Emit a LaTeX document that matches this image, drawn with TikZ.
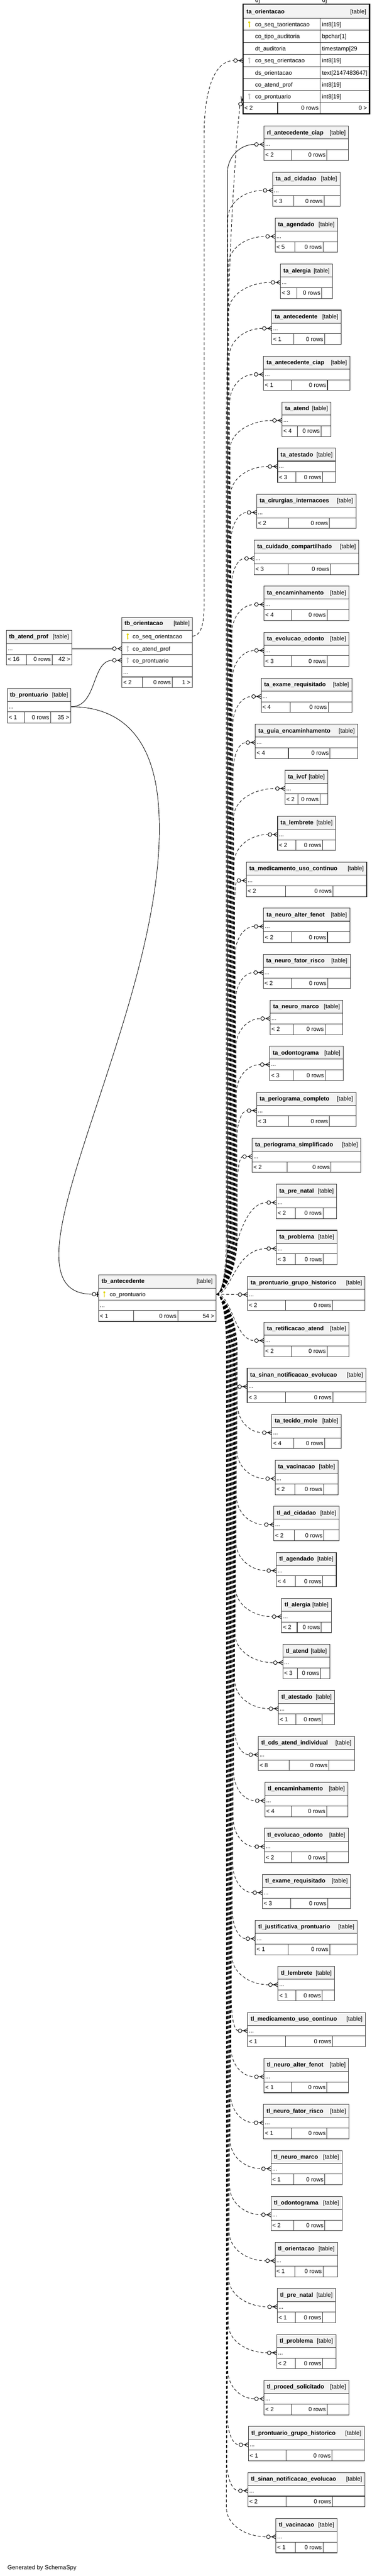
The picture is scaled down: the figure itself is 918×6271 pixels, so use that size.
\documentclass[tikz,border=0pt]{standalone}
\usepackage{fontspec}
\setmainfont{Liberation Sans}
\definecolor{hdr}{HTML}{F3F3F3}
\definecolor{pk}{HTML}{E2D400}
\definecolor{fk}{HTML}{BEBEBE}
\definecolor{bord}{HTML}{383838}
\tikzset{
  tbl/.style={draw=bord,line width=1.3pt},
  conn/.style={draw=black,line width=1.1pt},
  dconn/.style={conn,dash pattern=on 7pt off 5pt},
  mk/.style={draw=black,line width=1.2pt},
  txt/.style={inner sep=0pt,font=\fontsize{14.3}{16}\selectfont},
  btxt/.style={inner sep=0pt,font=\fontsize{14.3}{16}\selectfont\bfseries},
}
\newcommand\keyicon[3]{%
  \fill[#3] (#1,#2-4.5) circle[radius=2.5];
  \fill[#3] (#1-0.9,#2-3) rectangle (#1+0.9,#2+7);
  \fill[#3] (#1+0.9,#2+3.2) rectangle (#1+2.4,#2+4.6);
}
\newcommand\crowo[3]{%
  \begin{scope}[shift={(#1,#2)},rotate=#3]
    \draw[mk] (0,-5.5)--(-10,0)--(0,5.5) (0,0)--(-14,0);
    \draw[mk,fill=white] (-18.5,0) circle[radius=4.5];
  \end{scope}}
\def\tablist{0/rl\_antecedente\_ciap/643/849/2/conn,
1/ta\_ad\_cidadao/664/828/3/dconn,
2/ta\_agendado/670/822/5/dconn,
3/ta\_alergia/683/810/3/dconn,
4/ta\_antecedente/662/831/1/dconn,
5/ta\_antecedente\_ciap/642/852/1/dconn,
6/ta\_atend/687/806/4/dconn,
7/ta\_atestado/676/817/3/dconn,
8/ta\_cirurgias\_internacoes/625/867/2/dconn,
9/ta\_cuidado\_compartilhado/619/874/3/dconn,
10/ta\_encaminhamento/643/850/4/dconn,
11/ta\_evolucao\_odonto/643/850/3/dconn,
12/ta\_exame\_requisitado/636/857/4/dconn,
13/ta\_guia\_encaminhamento/622/871/4/dconn,
14/ta\_ivcf/694/798/2/dconn,
15/ta\_lembrete/676/817/2/dconn,
16/ta\_medicamento\_uso\_continuo/600/893/2/dconn,
17/ta\_neuro\_alter\_fenot/642/852/2/dconn,
18/ta\_neuro\_fator\_risco/641/853/2/dconn,
19/ta\_neuro\_marco/658/835/2/dconn,
20/ta\_odontograma/657/836/3/dconn,
21/ta\_periograma\_completo/625/867/3/dconn,
22/ta\_periograma\_simplificado/614/879/2/dconn,
23/ta\_pre\_natal/673/820/2/dconn,
24/ta\_problema/673/821/3/dconn,
25/ta\_prontuario\_grupo\_historico/603/889/2/dconn,
26/ta\_retificacao\_atend/643/850/2/dconn,
27/ta\_sinan\_notificacao\_evolucao/602/891/3/dconn,
28/ta\_tecido\_mole/662/831/4/dconn,
29/ta\_vacinacao/670/823/2/dconn,
30/tl\_ad\_cidadao/667/826/2/dconn,
31/tl\_agendado/673/819/4/dconn,
32/tl\_alergia/686/807/2/dconn,
33/tl\_atend/689/803/3/dconn,
34/tl\_atestado/678/815/1/dconn,
35/tl\_cds\_atend\_individual/629/863/8/dconn,
36/tl\_encaminhamento/645/847/4/dconn,
37/tl\_evolucao\_odonto/644/848/2/dconn,
38/tl\_exame\_requisitado/639/854/3/dconn,
39/tl\_justificativa\_prontuario/622/870/1/dconn,
40/tl\_lembrete/677/815/1/dconn,
41/tl\_medicamento\_uso\_continuo/603/890/1/dconn,
42/tl\_neuro\_alter\_fenot/643/849/1/dconn,
43/tl\_neuro\_fator\_risco/642/850/1/dconn,
44/tl\_neuro\_marco/660/833/1/dconn,
45/tl\_odontograma/660/833/2/dconn,
46/tl\_orientacao/670/822/1/dconn,
47/tl\_pre\_natal/675/817/1/dconn,
48/tl\_problema/674/818/2/dconn,
49/tl\_proced\_solicitado/643/850/2/dconn,
50/tl\_prontuario\_grupo\_historico/605/887/1/dconn,
51/tl\_sinan\_notificacao\_evolucao/604/889/2/dconn,
52/tl\_vacinacao/672/821/1/dconn}
\begin{document}
\begin{tikzpicture}[x=1pt,y=-1pt]
\useasboundingbox (0,0) rectangle (918,6271);
\fill[white] (0,0) rectangle (918,6271);

% anchors
\coordinate (ante) at (527,3150.5);
\coordinate (oriout) at (469,1548.5);
\coordinate (profout) at (175,1579);
\coordinate (prontout) at (173,1720.5);
\coordinate (oriin1) at (278.5,1579);
\coordinate (oriin2) at (274,1607.5);
\coordinate (antein) at (224.5,3150.5);
\coordinate (taoin1) at (569.5,147.5);
\coordinate (taoin2) at (584.1,257.6);

% ---------- connectors ----------
\foreach \i/\nm/\L/\R/\n/\st in \tablist {
  \pgfmathsetmacro\yi{307+112*\i+44.5}
  \pgfmathsetmacro\ady{abs(\yi-3150.5)}
  \pgfmathsetmacro\kk{abs(\i-25)-1}
  \pgfmathsetmacro\xb{580-1.1*\kk}
  \pgfmathsetmacro\Lc{\L-23}
  \pgfmathsetmacro\ya{3150.5+50*sign(\yi-3150.5)}
  \pgfmathsetmacro\yb{3150.5+140*sign(\yi-3150.5)}
  \pgfmathsetmacro\yc{\yi-70*sign(\yi-3150.5)}
  \pgfmathsetmacro\yd{\yi-31.5*sign(\yi-3150.5)}
  \pgfmathsetmacro\xe{\Lc-(\Lc-\xb)*0.55}
  \coordinate (q\i) at (\Lc,\yi);
  \ifdim\ady pt<5pt
    \draw[\st] (ante) -- (q\i);
  \else\ifdim\ady pt<300pt
    \draw[\st] (ante) .. controls (565,3150.5) and (570,\yi) .. (q\i);
  \else
    \draw[\st] (ante) .. controls (540,3150.5) and (\xb,\ya) .. (\xb,\yb) -- (\xb,\yc) .. controls (\xb,\yd) and (\xe,\yi) .. (q\i);
  \fi\fi
  \crowo{\L}{\yi}{0}
}

% tb_antecedente -> ta_orientacao.co_prontuario
\draw[dconn] (ante) .. controls (540,3150.5) and (551,3100) .. (551,3010) -- (551,1100) .. controls (551,700) and (570,400) .. (taoin2);
\crowo{592}{236}{70}
% tb_orientacao -> ta_orientacao.co_seq_orientacao
\draw[dconn] (oriout) .. controls (490,1547) and (497,1520) .. (497,1470) -- (497,330) .. controls (497,225) and (520,147.5) .. (taoin1);
\crowo{592}{147.5}{0}
% tb_atend_prof -> tb_orientacao
\draw[conn] (profout) -- (oriin1);
\crowo{297}{1579}{0}
% tb_prontuario -> tb_orientacao
\draw[conn] (prontout) .. controls (238,1720.5) and (222,1607.5) .. (oriin2);
\crowo{297}{1607.5}{0}
% tb_prontuario -> tb_antecedente
\draw[conn] (prontout) .. controls (290,1720.5) and (370,1790) .. (385,1950) .. controls (430,2430) and (-40,3150.5) .. (antein);
\draw[mk] (233.5,3150.5) -- (240,3150.5);
\draw[mk,fill=white] (229,3150.5) circle[radius=4.5];
\draw[black,line width=3pt] (237,3144.5) -- (237,3156.5);

% ---------- right column tables ----------
\foreach \i/\nm/\L/\R/\n/\st in \tablist {
  \pgfmathsetmacro\T{307+112*\i}
  \pgfmathsetmacro\ex{(\R-\L-104)/3}
  \pgfmathsetmacro\ca{\L+32+\ex}
  \pgfmathsetmacro\cb{\ca+53+\ex}
  \fill[white] (\L,\T) rectangle (\R,\T+83.5);
  \draw[tbl,fill=hdr] (\L,\T) rectangle (\R,\T+31.5);
  \draw[tbl] (\L,\T+31.5) rectangle (\R,\T+57.5);
  \draw[tbl] (\L,\T+57.5) rectangle (\R,\T+83.5);
  \draw[tbl] (\ca,\T+57.5) -- (\ca,\T+83.5) (\cb,\T+57.5) -- (\cb,\T+83.5);
  \node[btxt,anchor=base west] (n\i) at (\L+7,\T+20.5) {\nm};
  \node[txt,anchor=base east] at (\R-7,\T+20.5) {[table]};
  \node[txt,anchor=base west] at (\L+3,\T+49) {...};
  \node[txt,anchor=base west] at (\L+3,\T+75.5) {< \n};
  \node[txt,anchor=base east] at (\cb-3,\T+75.5) {0 rows};
}

% ---------- ta_orientacao (detailed) ----------
\fill[white] (592,10) rectangle (900,277);
\fill[hdr] (592,10) rectangle (900,45);
\draw[tbl] (592,45) -- (900,45);
\foreach \yy in {73,103,132,162,191,220,249} { \draw[tbl] (592,\yy) -- (900,\yy); }
\draw[tbl] (780,45) -- (780,277);
\draw[tbl] (676,249) -- (676,277);
\draw[black,line width=3pt] (592,10) rectangle (900,277);
\node[btxt,anchor=base west] (tao) at (600,33) {ta\_orientacao};
\node[txt,anchor=base east] at (892,33.5) {[table]};
\foreach \yy/\cn/\ty in {65/co\_seq\_taorientacao/int8[19], 93/co\_tipo\_auditoria/bpchar[1], 123/dt\_auditoria/timestamp[29,6], 152/co\_seq\_orientacao/int8[19], 182/ds\_orientacao/text[2147483647], 211/co\_atend\_prof/int8[19], 240/co\_prontuario/int8[19]} {
  \node[txt,anchor=base west] at (621,\yy) {\cn};
  \node[txt,anchor=base west] at (784,\yy) {\ty};
}
\keyicon{607}{59}{pk}
\keyicon{607}{147}{fk}
\keyicon{607}{234.5}{fk}
\node[txt,anchor=base west] at (595,268) {< 2};
\node[txt,anchor=base east] at (776,268) {0 rows};
\node[txt,anchor=base east] at (894,268) {0 >};

% ---------- tb_atend_prof ----------
\fill[white] (16,1535) rectangle (175,1618);
\draw[tbl,fill=hdr] (16,1535) rectangle (175,1567);
\draw[tbl] (16,1567) rectangle (175,1593);
\draw[tbl] (16,1593) rectangle (175,1618);
\draw[tbl] (64,1593) -- (64,1618) (127,1593) -- (127,1618);
\node[btxt,anchor=base west] (tap) at (22,1554) {tb\_atend\_prof};
\node[txt,anchor=base east] at (168,1554) {[table]};
\node[txt,anchor=base west] at (19,1584) {...};
\node[txt,anchor=base west] at (19,1610) {< 16};
\node[txt,anchor=base east] at (124,1610) {0 rows};
\node[txt,anchor=base east] at (171,1610) {42 >};

% ---------- tb_prontuario ----------
\fill[white] (18,1676) rectangle (173,1760);
\draw[tbl,fill=hdr] (18,1676) rectangle (173,1708);
\draw[tbl] (18,1708) rectangle (173,1733);
\draw[tbl] (18,1733) rectangle (173,1760);
\draw[tbl] (59,1733) -- (59,1760) (123,1733) -- (123,1760);
\node[btxt,anchor=base west] (tpr) at (24,1696) {tb\_prontuario};
\node[txt,anchor=base east] at (166,1696) {[table]};
\node[txt,anchor=base west] at (21,1725) {...};
\node[txt,anchor=base west] at (21,1751) {< 1};
\node[txt,anchor=base east] at (120,1751) {0 rows};
\node[txt,anchor=base east] at (169,1751) {35 >};

% ---------- tb_orientacao ----------
\fill[white] (297,1503) rectangle (469,1674);
\draw[tbl,fill=hdr] (297,1503) rectangle (469,1534);
\draw[tbl] (297,1534) rectangle (469,1564);
\draw[tbl] (297,1564) rectangle (469,1593);
\draw[tbl] (297,1593) rectangle (469,1622);
\draw[tbl] (297,1622) rectangle (469,1648);
\draw[tbl] (297,1648) rectangle (469,1674);
\draw[tbl] (347,1648) -- (347,1674) (419,1648) -- (419,1674);
\node[btxt,anchor=base west] (tor) at (303,1522) {tb\_orientacao};
\node[txt,anchor=base east] at (462,1522) {[table]};
\keyicon{311}{1549}{pk}
\keyicon{311}{1579}{fk}
\keyicon{311}{1607.5}{fk}
\node[txt,anchor=base west] at (323,1555) {co\_seq\_orientacao};
\node[txt,anchor=base west] at (323,1584.5) {co\_atend\_prof};
\node[txt,anchor=base west] at (323,1613) {co\_prontuario};
\node[txt,anchor=base west] at (300,1641) {...};
\node[txt,anchor=base west] at (300,1666) {< 2};
\node[txt,anchor=base east] at (416,1666) {0 rows};
\node[txt,anchor=base east] at (464,1666) {1 >};

% ---------- tb_antecedente ----------
\fill[white] (240,3103) rectangle (526,3217);
\draw[tbl,fill=hdr] (240,3103) rectangle (526,3136);
\draw[tbl] (240,3136) rectangle (526,3165);
\draw[tbl] (240,3165) rectangle (526,3190);
\draw[tbl] (240,3190) rectangle (526,3217);
\draw[tbl] (325,3190) -- (325,3217) (433,3190) -- (433,3217);
\node[btxt,anchor=base west] (tan) at (247,3123) {tb\_antecedente};
\node[txt,anchor=base east] at (518,3123) {[table]};
\keyicon{254}{3150.5}{pk}
\node[txt,anchor=base west] at (267,3156) {co\_prontuario};
\node[txt,anchor=base west] at (243,3182) {...};
\node[txt,anchor=base west] at (243,3209) {< 1};
\node[txt,anchor=base east] at (430,3209) {0 rows};
\node[txt,anchor=base east] at (522,3209) {54 >};

\node[txt,anchor=base west] (gen) at (18,6255) {Generated by SchemaSpy};
\end{tikzpicture}
\end{document}
